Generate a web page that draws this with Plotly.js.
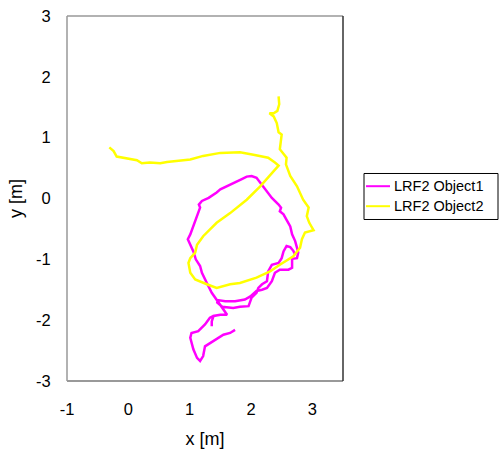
<!DOCTYPE html>
<html>
<head>
<meta charset="utf-8">
<script src="https://cdn.plot.ly/plotly-3.0.1.min.js"></script>
<style>html,body{margin:0;padding:0;background:#fff;}#chart{width:502px;height:453px;}</style>
</head>
<body>
<div id="chart"></div>
<script>
// LRF2 Object1 trajectory (x, y in metres)
const obj1X = [1.74,1.66,1.55,1.47,1.33,1.25,1.22,1.17,1.12,1.06,1.01,1.03,1.14,1.25,1.33,1.39,
  1.36,1.36,1.36,1.39,1.50,1.61,1.55,1.48,1.44,1.36,1.28,1.20,1.17,1.10,1.06,1.01,0.97,1.01,1.04,
  1.09,1.13,1.17,1.15,1.20,1.31,1.41,1.44,1.50,1.61,1.71,1.77,1.85,1.93,2.01,2.09,2.15,2.23,2.34,
  2.45,2.49,2.47,2.53,2.58,2.64,2.67,2.72,2.75,2.77,2.75,2.67,2.67,2.61,2.47,2.39,2.34,2.26,2.18,
  2.09,1.99,1.90,1.74,1.58,1.46,1.45,1.53,1.71,1.82,1.96,2.01,2.09,2.12,2.18,2.26,2.28,2.34,2.45,
  2.50,2.53,2.58,2.64,2.69,2.72];
const obj1Y = [-2.16,-2.21,-2.24,-2.29,-2.37,-2.43,-2.59,-2.67,-2.62,-2.48,-2.29,-2.21,-2.18,-2.07,-1.96,-1.93,
  -2.02,-2.10,-2.02,-1.93,-1.91,-1.91,-1.82,-1.73,-1.66,-1.55,-1.39,-1.22,-1.11,-1.00,-0.87,-0.76,-0.67,-0.59,-0.51,
  -0.37,-0.24,-0.15,-0.10,-0.04,0.01,0.07,0.10,0.15,0.20,0.25,0.28,0.32,0.36,0.37,0.34,0.26,0.15,0.01,
  -0.10,-0.15,-0.21,-0.26,-0.35,-0.46,-0.59,-0.70,-0.81,-0.89,-0.98,-0.99,-1.14,-1.17,-1.17,-1.22,-1.36,-1.47,-1.50,
  -1.52,-1.61,-1.66,-1.69,-1.69,-1.67,-1.71,-1.78,-1.80,-1.78,-1.77,-1.63,-1.55,-1.47,-1.41,-1.36,-1.20,-1.09,-1.06,
  -0.98,-0.87,-0.78,-0.80,-0.86,-0.92];

// LRF2 Object2 trajectory (x, y in metres)
const obj2X = [-0.31,-0.24,-0.19,0.14,0.22,0.35,0.52,0.63,1.01,1.22,1.50,1.82,2.04,2.28,2.39,2.45,
  2.37,2.15,1.93,1.66,1.44,1.22,1.12,1.09,1.01,0.98,1.01,1.09,1.28,1.44,1.66,1.82,2.09,2.31,2.47,
  2.69,2.80,2.83,2.88,2.94,3.02,2.95,2.91,2.94,2.85,2.75,2.64,2.57,2.58,2.47,2.50,2.45,2.42,2.37,
  2.30,2.37,2.43,2.46,2.45];
const obj2Y = [0.84,0.78,0.69,0.63,0.58,0.59,0.58,0.60,0.64,0.70,0.75,0.76,0.72,0.67,0.59,0.54,
  0.45,0.20,-0.02,-0.24,-0.40,-0.62,-0.76,-0.89,-0.98,-1.06,-1.22,-1.33,-1.41,-1.47,-1.41,-1.39,-1.30,-1.20,-1.09,
  -0.95,-0.81,-0.67,-0.56,-0.54,-0.52,-0.40,-0.29,-0.15,-0.02,0.20,0.37,0.56,0.67,0.81,1.05,1.09,1.24,1.35,
  1.40,1.40,1.44,1.55,1.68];

const seriesNames = ['LRF2 Object1', 'LRF2 Object2'];
const seriesColors = ['#ff00ff', '#ffff00'];
const xTickVals = [-1, 0, 1, 2, 3];
const yTickVals = [-3, -2, -1, 0, 1, 2, 3];

const fam = 'Liberation Sans, Arial, sans-serif';
const tickFont = {family: fam, size: 16.5, color: '#000'};
const titleFont = {family: fam, size: 18, color: '#000'};
const legFont = {family: fam, size: 14.5, color: '#000'};

const traces = [
  {x: obj1X, y: obj1Y, mode: 'lines', name: seriesNames[0], showlegend: false,
   line: {color: seriesColors[0], width: 2.5}},
  {x: obj2X, y: obj2Y, mode: 'lines', name: seriesNames[1], showlegend: false,
   line: {color: seriesColors[1], width: 2.5}}
];

const frame = (x0, y0, x1, y1, c) => ({type: 'line', xref: 'paper', yref: 'paper',
  x0: x0, y0: y0, x1: x1, y1: y1, line: {color: c, width: 1.5}});

// legend box (drawn with paper-referenced shapes + text annotations)
const legRows = [0.5337, 0.4789];
const shapes = [
  frame(0, 0, 1, 0, '#777'),
  frame(0, 0, 0, 1, '#999'),
  frame(0, 1, 1, 1, '#999'),
  frame(1, 0, 1, 1, '#333'),
  {type: 'rect', xref: 'paper', yref: 'paper', x0: 1.0761, x1: 1.5616, y0: 0.4425, y1: 0.5685,
   line: {color: '#000', width: 1}, fillcolor: '#fff'}
];
const annotations = [];
seriesNames.forEach((n, i) => {
  shapes.push({type: 'line', xref: 'paper', yref: 'paper', x0: 1.0833, x1: 1.1703,
    y0: legRows[i], y1: legRows[i], line: {color: seriesColors[i], width: 2}});
  annotations.push({xref: 'paper', yref: 'paper', x: 1.1775, y: legRows[i], text: n,
    showarrow: false, xanchor: 'left', yanchor: 'middle', font: legFont});
});

const layout = {
  width: 502, height: 453,
  margin: {l: 67, r: 159, t: 16, b: 72},
  paper_bgcolor: '#fff', plot_bgcolor: '#fff',
  font: tickFont,
  showlegend: false,
  xaxis: {range: [-1, 3.5], tickvals: xTickVals, ticktext: xTickVals.map(String),
    showgrid: false, zeroline: false, showline: false, tickfont: tickFont,
    ticks: 'outside', ticklen: 13, tickcolor: 'rgba(0,0,0,0)',
    title: {text: 'x [m]', font: titleFont, standoff: 15}},
  yaxis: {range: [-3, 3], tickvals: yTickVals, ticktext: yTickVals.map(String),
    showgrid: false, zeroline: false, showline: false, tickfont: tickFont,
    ticks: 'outside', ticklen: 12, tickcolor: 'rgba(0,0,0,0)',
    title: {text: 'y [m]', font: titleFont, standoff: 8}},
  shapes: shapes,
  annotations: annotations
};

Plotly.newPlot('chart', traces, layout, {displayModeBar: false, staticPlot: true});
</script>
</body>
</html>
